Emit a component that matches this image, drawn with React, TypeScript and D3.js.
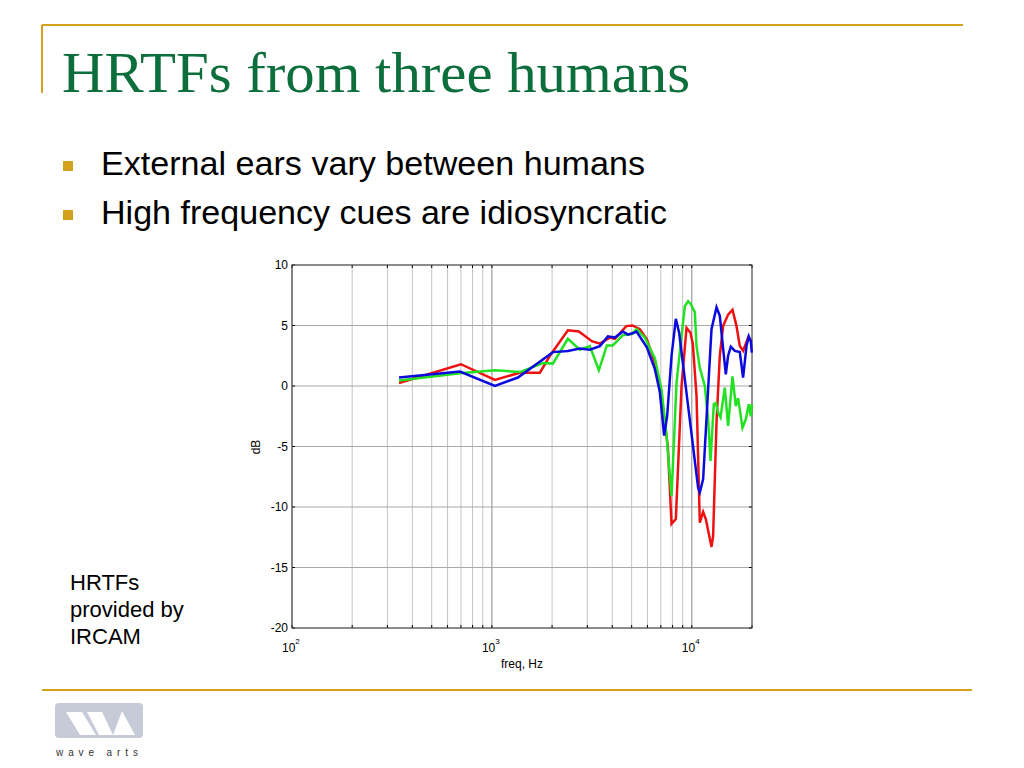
import React from "react";
import * as d3 from "d3";

// ---- data (frequency in Hz, magnitude in dB) ----
const redCurve: [number, number][] = [
  [343, 0.25], [700, 1.8], [1035, 0.5], [1380, 1.1], [1738, 1.1], [1950, 2.5], [2399, 4.6],
  [2723, 4.5], [3162, 3.7], [3467, 3.5], [3890, 4.0], [4121, 3.9], [4700, 4.95], [5050, 5.0],
  [5495, 4.7], [5957, 3.85], [6531, 1.95], [7161, -1.7], [7586, -5.0], [7917, -11.4],
  [8318, -11.0], [8884, 0.0], [9408, 4.8], [9851, 4.4], [10116, 3.5], [10556, -0.8],
  [10965, -11.3], [11392, -10.4], [11749, -11.0], [12545, -13.3], [12780, -12.4],
  [13290, -3.0], [13804, 2.5], [14339, 4.95], [15189, 5.9], [15977, 6.3], [16730, 4.95],
  [17378, 3.3], [18050, 2.9], [19120, 4.0], [19950, 3.7],
];

const greenCurve: [number, number][] = [
  [343, 0.45], [692, 1.05], [1035, 1.3], [1380, 1.15], [1799, 1.9], [2018, 1.85],
  [2399, 3.9], [2754, 3.0], [3090, 3.3], [3428, 1.3], [3758, 3.35], [4027, 3.35],
  [4519, 4.2], [5012, 4.3], [5300, 4.7], [5821, 4.0], [6531, 2.3], [7057, -0.3],
  [7474, -4.1], [7917, -9.1], [8385, 0.27], [8884, 4.1], [9226, 6.6], [9583, 7.0],
  [9851, 6.8], [10351, 6.1], [10556, 3.3], [10965, 1.5], [11614, 0.0], [12064, -2.75],
  [12401, -6.2], [12882, -1.5], [13183, -1.4], [13537, -2.2], [13916, -2.6],
  [14622, -0.14], [15189, -3.3], [15977, 0.8], [16596, -1.66], [17041, -1.0],
  [17926, -3.45], [18621, -2.75], [19275, -1.5], [19724, -2.5], [19950, -1.5],
];

const blueCurve: [number, number][] = [
  [343, 0.7], [692, 1.2], [1035, 0.0], [1349, 0.7], [2018, 2.8], [2399, 2.9], [2754, 3.1],
  [3090, 3.0], [3467, 3.3], [3802, 4.1], [4121, 4.0], [4519, 4.5], [4786, 4.25],
  [5129, 4.4], [5291, 4.5], [5957, 3.2], [6531, 1.4], [6918, -0.5], [7270, -4.1],
  [7525, -2.5], [7917, 2.5], [8318, 5.55], [8641, 4.4], [9583, -1.66], [10752, -8.4],
  [10965, -8.8], [11392, -7.7], [12064, -0.3], [12545, 4.7], [13290, 6.5], [13804, 5.8],
  [14240, 3.6], [14791, 0.96], [15189, 2.5], [15668, 3.25], [16406, 2.9], [17378, 2.8],
  [18050, 0.7], [18770, 3.3], [19275, 4.1], [19724, 3.7], [19950, 2.75],
];

const yTicks = [10, 5, 0, -5, -10, -15, -20];
const xDecades = [100, 1000, 10000];
const xDecadeExp = ["2", "3", "4"];
const xMinorGrid = [200, 300, 400, 500, 600, 700, 800, 900, 2000, 3000, 4000, 5000, 6000, 7000, 8000, 9000, 20000];

const titleText = "HRTFs from three humans";
const bullets = ["External ears vary between humans", "High frequency cues are idiosyncratic"];
const noteLines = ["HRTFs", "provided by", "IRCAM"];

const GOLD = "#D4A11E";
const SANS = "Liberation Sans, Arial, Helvetica, sans-serif";

export default function App() {
  const x = d3.scaleLog().domain([100, 20000]).range([292, 752]);
  const y = d3.scaleLinear().domain([-20, 10]).range([628, 265]);
  const line = d3
    .line<[number, number]>()
    .x((d) => x(d[0]))
    .y((d) => y(d[1]));

  const [x0, x1] = x.range();
  const [y0, y1] = y.range();
  const allX = [...xDecades, ...xMinorGrid];

  return (
    <svg
      width={1024}
      height={768}
      style={{ position: "absolute", left: 0, top: 0, background: "#fff" }}
    >
      {/* slide decorations */}
      <line x1={42} y1={25} x2={963} y2={25} stroke={GOLD} strokeWidth={2} />
      <line x1={42} y1={25} x2={42} y2={93} stroke={GOLD} strokeWidth={2} />
      <text
        x={62}
        y={92}
        fontFamily="Liberation Serif, Times New Roman, serif"
        fontSize={57}
        fill="#0B6E3B"
        textLength={628}
        lengthAdjust="spacingAndGlyphs"
      >
        {titleText}
      </text>

      {bullets.map((b, i) => (
        <g key={b}>
          <rect x={63} y={161 + i * 49} width={10} height={10} fill={GOLD} />
          <text
            x={101}
            y={175 + i * 49}
            fontFamily={SANS}
            fontSize={33}
            fill="#000"
            textLength={i === 0 ? 544 : 566}
            lengthAdjust="spacingAndGlyphs"
          >
            {b}
          </text>
        </g>
      ))}

      {noteLines.map((t, i) => (
        <text key={t} x={70} y={590 + i * 27} fontFamily={SANS} fontSize={22} fill="#000">
          {t}
        </text>
      ))}

      <line x1={42} y1={690} x2={972} y2={690} stroke={GOLD} strokeWidth={2} />

      {/* logo */}
      <rect x={55} y={703} width={88} height={35} rx={4} fill="#C6CBD7" />
      <polygon points="66,712 82,712 96,735 80,735" fill="#fff" />
      <polygon points="87,712 102,712 113,735 99,735" fill="#fff" />
      <polygon points="122,711 135,735 113,735" fill="#fff" />
      <text
        x={56}
        y={756}
        fontFamily={SANS}
        fontSize={10}
        fill="#333"
        textLength={82}
        lengthAdjust="spacing"
      >
        wave arts
      </text>

      {/* chart grid */}
      {allX.map((f) => (
        <line
          key={"gx" + f}
          x1={x(f)}
          x2={x(f)}
          y1={y0}
          y2={y1}
          stroke={xDecades.includes(f) ? "#8a8a8a" : "#c4c4c4"}
          strokeWidth={1}
        />
      ))}
      {yTicks.map((v) => (
        <line key={"gy" + v} x1={x0} x2={x1} y1={y(v)} y2={y(v)} stroke="#a8a8a8" strokeWidth={1} />
      ))}

      {/* ticks */}
      {allX.map((f) => (
        <g key={"tx" + f}>
          <line x1={x(f)} x2={x(f)} y1={y0} y2={y0 - 3} stroke="#000" />
          <line x1={x(f)} x2={x(f)} y1={y1} y2={y1 + 3} stroke="#000" />
        </g>
      ))}
      {yTicks.map((v) => (
        <g key={"ty" + v}>
          <line x1={x0} x2={x0 + 3} y1={y(v)} y2={y(v)} stroke="#000" />
          <line x1={x1} x2={x1 - 3} y1={y(v)} y2={y(v)} stroke="#000" />
        </g>
      ))}

      {/* frame */}
      <rect x={x0} y={y1} width={x1 - x0} height={y0 - y1} fill="none" stroke="#444" strokeWidth={1} />

      {/* curves */}
      <path d={line(redCurve) || ""} fill="none" stroke="#EE1111" strokeWidth={2.5} />
      <path d={line(greenCurve) || ""} fill="none" stroke="#22E022" strokeWidth={2.5} />
      <path d={line(blueCurve) || ""} fill="none" stroke="#0A0ADD" strokeWidth={2.5} />

      {/* axis labels */}
      {yTicks.map((v) => (
        <text
          key={"ly" + v}
          x={x0 - 4}
          y={y(v) + 4}
          textAnchor="end"
          fontFamily={SANS}
          fontSize={12}
          fill="#000"
        >
          {v}
        </text>
      ))}
      {xDecades.map((f, i) => (
        <text
          key={"lx" + f}
          x={x(f) - 10}
          y={652}
          fontFamily={SANS}
          fontSize={12}
          fill="#000"
        >
          10
          <tspan dy={-8} fontSize={8}>
            {xDecadeExp[i]}
          </tspan>
        </text>
      ))}
      <text x={522} y={668} textAnchor="middle" fontFamily={SANS} fontSize={12} fill="#000">
        freq, Hz
      </text>
      <text
        transform="translate(260,447) rotate(-90)"
        textAnchor="middle"
        fontFamily={SANS}
        fontSize={12}
        fill="#000"
      >
        dB
      </text>
    </svg>
  );
}
